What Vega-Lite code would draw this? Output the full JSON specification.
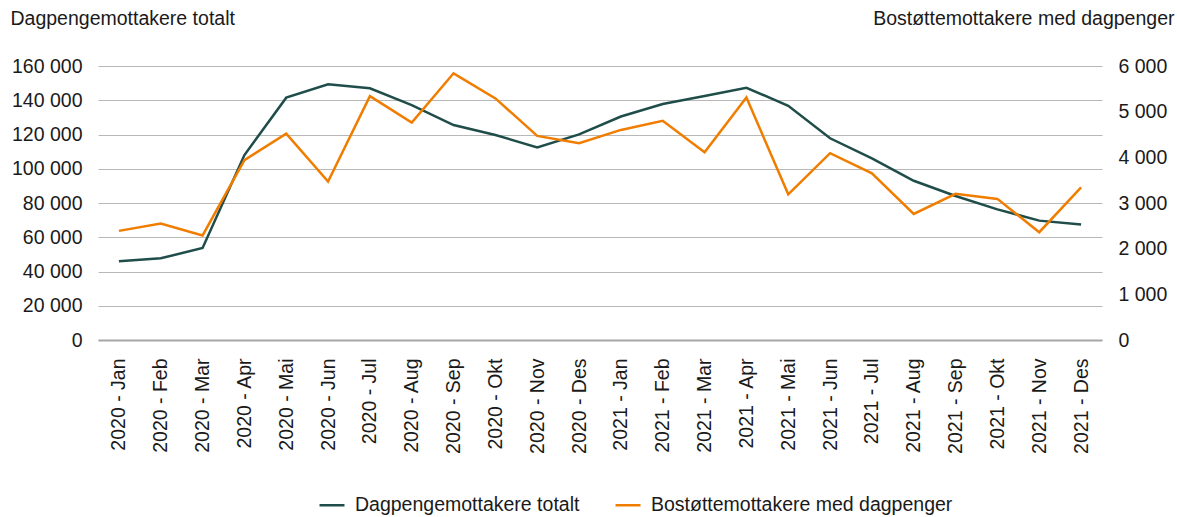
{
  "$schema": "https://vega.github.io/schema/vega-lite/v6.json",
  "autosize": {"type": "none"},
  "padding": {"left": 98, "top": 66, "right": 75, "bottom": 177},
  "width": 1004,
  "height": 274,
  "background": "white",
  "config": {
    "font": "Liberation Sans",
    "view": {"stroke": null},
    "axis": {"labelFontSize": 19.5, "labelColor": "#1a1a1a", "titleFontSize": 19.5, "titleFontWeight": "normal", "titleColor": "#1a1a1a", "ticks": false, "tickSize": 0}
  },
  "data": {
    "values": [
      {"m": "2020 - Jan", "total": 46000, "bostotte": 2390},
      {"m": "2020 - Feb", "total": 47700, "bostotte": 2550},
      {"m": "2020 - Mar", "total": 53700, "bostotte": 2290},
      {"m": "2020 - Apr", "total": 108000, "bostotte": 3940},
      {"m": "2020 - Mai", "total": 141500, "bostotte": 4520},
      {"m": "2020 - Jun", "total": 149300, "bostotte": 3470},
      {"m": "2020 - Jul", "total": 147000, "bostotte": 5340},
      {"m": "2020 - Aug", "total": 137200, "bostotte": 4760},
      {"m": "2020 - Sep", "total": 125500, "bostotte": 5840},
      {"m": "2020 - Okt", "total": 119700, "bostotte": 5290},
      {"m": "2020 - Nov", "total": 112500, "bostotte": 4470},
      {"m": "2020 - Des", "total": 120100, "bostotte": 4310},
      {"m": "2021 - Jan", "total": 130500, "bostotte": 4600},
      {"m": "2021 - Feb", "total": 137800, "bostotte": 4800},
      {"m": "2021 - Mar", "total": 142500, "bostotte": 4110},
      {"m": "2021 - Apr", "total": 147300, "bostotte": 5310},
      {"m": "2021 - Mai", "total": 136800, "bostotte": 3190},
      {"m": "2021 - Jun", "total": 117800, "bostotte": 4090},
      {"m": "2021 - Jul", "total": 106100, "bostotte": 3650},
      {"m": "2021 - Aug", "total": 93000, "bostotte": 2760},
      {"m": "2021 - Sep", "total": 84100, "bostotte": 3200},
      {"m": "2021 - Okt", "total": 76300, "bostotte": 3090},
      {"m": "2021 - Nov", "total": 69700, "bostotte": 2360},
      {"m": "2021 - Des", "total": 67500, "bostotte": 3340}
    ]
  },
  "encoding": {
    "x": {
      "field": "m", "type": "ordinal", "sort": null, "title": null,
      "axis": {"labelAngle": -90, "labelAlign": "right", "labelBaseline": "middle", "labelPadding": 18, "grid": false, "domain": true, "domainColor": "#a6a6a6", "domainWidth": 2}
    },
    "color": {
      "type": "nominal",
      "scale": {"domain": ["Dagpengemottakere totalt", "Bostøttemottakere med dagpenger"], "range": ["#1f4d4a", "#f07d00"]},
      "legend": {"title": null, "orient": "none", "legendX": 220, "legendY": 425, "padding": 0, "direction": "horizontal", "labelFontSize": 19.5, "labelColor": "#1a1a1a", "symbolType": "stroke", "symbolStrokeWidth": 2.5, "symbolSize": 625, "labelOffset": 9, "columnPadding": 30, "labelLimit": 400}
    }
  },
  "layer": [
    {
      "mark": {"type": "line", "strokeWidth": 2.5},
      "encoding": {
        "y": {
          "field": "total", "type": "quantitative", "scale": {"domain": [0, 160000], "nice": false},
          "title": "Dagpengemottakere totalt",
          "axis": {"values": [0, 20000, 40000, 60000, 80000, 100000, 120000, 140000, 160000], "labelExpr": "replace(format(datum.value, ','), ',', ' ')", "labelPadding": 16, "domain": false, "grid": true, "gridColor": "#b8b8b8", "gridWidth": 1, "titleAngle": 0, "titleX": -88, "titleY": -48, "titleAlign": "left", "titleBaseline": "middle"}
        },
        "color": {"datum": "Dagpengemottakere totalt"}
      }
    },
    {
      "mark": {"type": "line", "strokeWidth": 2.5},
      "encoding": {
        "y": {
          "field": "bostotte", "type": "quantitative", "scale": {"domain": [0, 6000], "nice": false},
          "title": "Bostøttemottakere med dagpenger",
          "axis": {"orient": "right", "values": [0, 1000, 2000, 3000, 4000, 5000, 6000], "labelExpr": "replace(format(datum.value, ','), ',', ' ')", "labelPadding": 16, "domain": false, "grid": false, "titleAngle": 0, "titleX": 72, "titleY": -48, "titleAlign": "right", "titleBaseline": "middle"}
        },
        "color": {"datum": "Bostøttemottakere med dagpenger"}
      }
    }
  ],
  "resolve": {"scale": {"y": "independent"}}
}
